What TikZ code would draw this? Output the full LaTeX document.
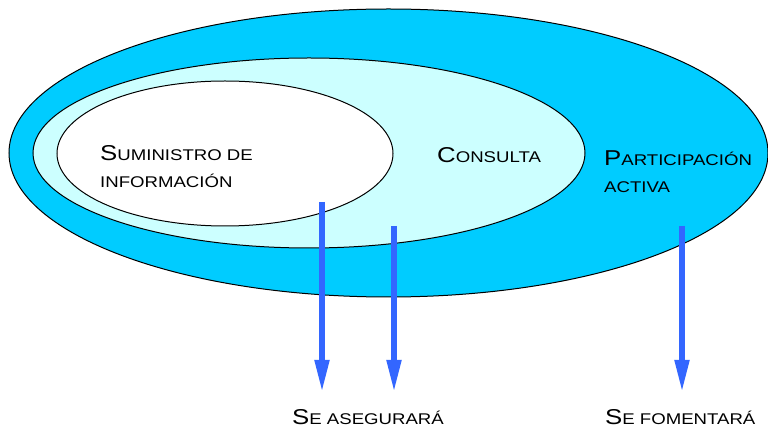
\documentclass[tikz,border=0pt]{standalone}
\usepackage{fontspec}
\newfontfamily\etiq[FakeStretch=1.2]{Liberation Sans}
\usetikzlibrary{shapes.geometric,arrows.meta}

\definecolor{cielo}{HTML}{00CCFF}
\definecolor{celeste}{HTML}{CCFFFF}
\definecolor{flechazul}{HTML}{3366FF}

\newcommand\versal[2]{{\fontsize{21.5}{27}\selectfont#1}{\fontsize{15.5}{27}\selectfont#2}}

\begin{document}
\begin{tikzpicture}[x=1pt,y=-1pt,
  elipse/.style={ellipse,draw=black,line width=1pt,inner sep=0pt},
  texto/.style={anchor=base west,inner sep=0pt,font=\etiq},
  flecha/.style={draw=flechazul,line width=6pt,-{Triangle[length=33pt,width=13.5pt]}}
]
\useasboundingbox (0,0) rectangle (768,427);

% ellipses
\node[elipse,fill=cielo,minimum width=759pt,minimum height=288pt] (participacion) at (388.5,153) {};
\node[elipse,fill=celeste,minimum width=552pt,minimum height=190pt] (consulta) at (309,153) {};
\node[elipse,fill=white,minimum width=336pt,minimum height=145pt] (suministro) at (225,153.5) {};

% labels
\node[texto] (tsum1) at (100,160.7) {\versal{S}{UMINISTRO DE}};
\node[texto] (tsum2) at (100,188) {\versal{}{INFORMACIÓN}};
\node[texto] (tcons) at (437,162.3) {\versal{C}{ONSULTA}};
\node[texto] (tpart1) at (604,165.7) {\versal{P}{ARTICIPACIÓN}};
\node[texto] (tpart2) at (604,192.3) {\versal{}{ACTIVA}};
\node[texto] (tasegura) at (292,424) {\versal{S}{E ASEGURARÁ}};
\node[texto] (tfomenta) at (605,424) {\versal{S}{E FOMENTARÁ}};

% arrows
\coordinate (ini1) at (322,202);
\coordinate (fin1) at (322,393);
\coordinate (ini2) at (394,226);
\coordinate (fin2) at (394,393);
\coordinate (ini3) at (682,226);
\coordinate (fin3) at (682,393);
\draw[flecha] (ini1) -- (fin1);
\draw[flecha] (ini2) -- (fin2);
\draw[flecha] (ini3) -- (fin3);
\end{tikzpicture}
\end{document}
